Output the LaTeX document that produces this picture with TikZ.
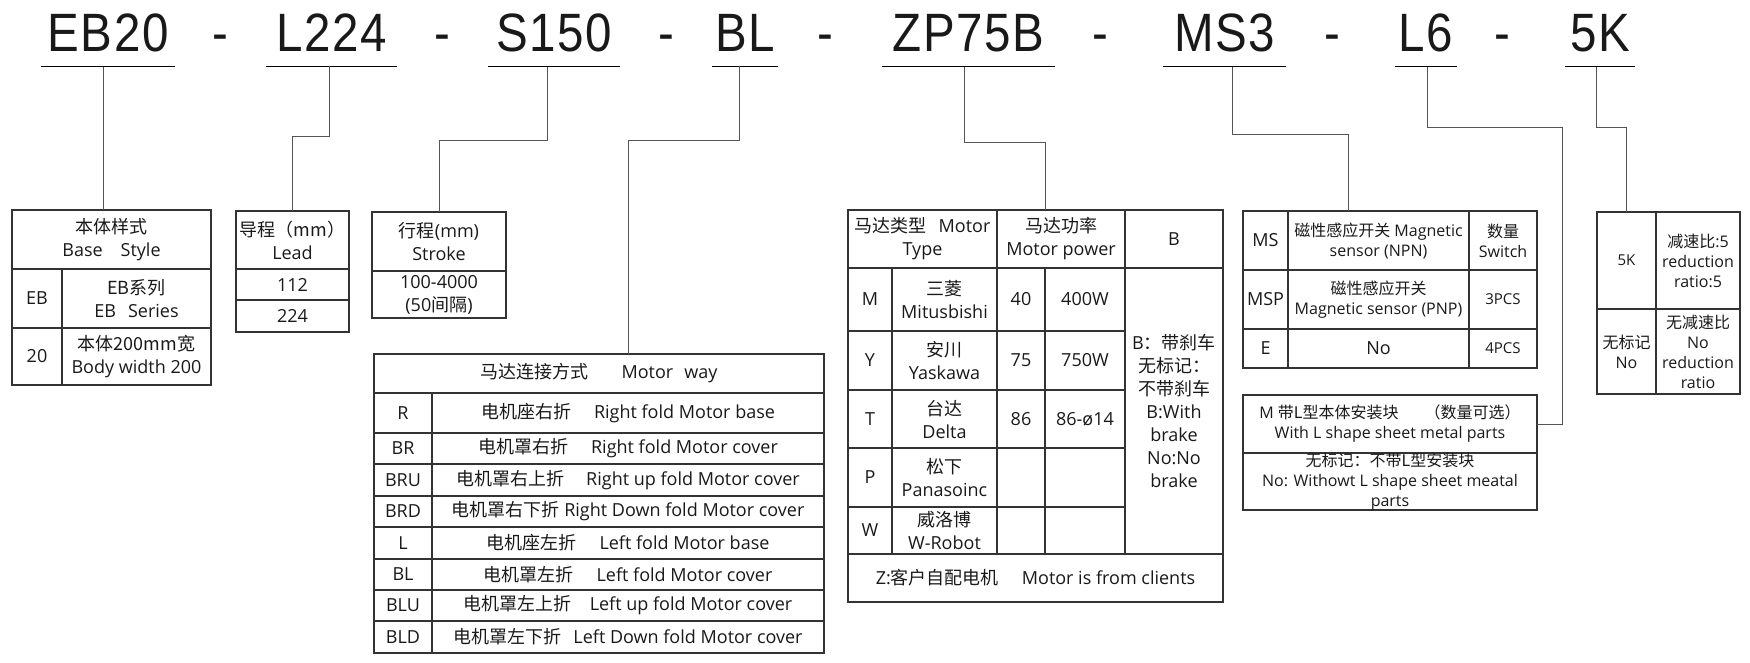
\documentclass[tikz,border=0pt]{standalone}
\usepackage{fontspec}
\setmainfont{Open Sans}
\newfontfamily\zhfont{Noto Sans CJK SC}
\newfontfamily\codefont[FakeStretch=0.88, LetterSpace=3]{Liberation Sans}
\usetikzlibrary{positioning}

\newcommand\zh[1]{{\zhfont #1}}
\newcommand\cellsize{\fontsize{18}{23}\selectfont}
\newcommand\notesize{\fontsize{16}{20}\selectfont}
\definecolor{gridc}{HTML}{333333}
\definecolor{leadc}{HTML}{555555}

\tikzset{
  cell/.style={draw=gridc, line width=1.3pt, inner sep=0pt, outer sep=0pt, align=center, font=\cellsize, text=black!90},
  note/.style={cell, font=\notesize},
  code/.style={font=\codefont\fontsize{54}{54}\selectfont, anchor=base, inner xsep=0pt, inner ysep=14pt, text=black!90},
  uline/.style={draw=black, line width=1pt},
  leader/.style={draw=leadc, line width=1pt}
}

\begin{document}
\begin{tikzpicture}[x=1pt, y=-1pt, node distance=0pt]
  \useasboundingbox (0,0) rectangle (1750,663);

  % order code
  \node[code, minimum width=134] (c-eb) at (108,52) {EB20};
  \node[code] (d1) at (220,52) {-};
  \node[code, minimum width=131] (c-lead) at (331.5,52) {L224};
  \node[code] (d2) at (442,52) {-};
  \node[code, minimum width=132] (c-st) at (554,52) {S150};
  \node[code] (d3) at (666,52) {-};
  \node[code, minimum width=66] (c-bl) at (745,52) {BL};
  \node[code] (d4) at (825,52) {-};
  \node[code, minimum width=173] (c-zp) at (968.5,52) {ZP75B};
  \node[code] (d5) at (1100,52) {-};
  \node[code, minimum width=123] (c-ms) at (1224.5,52) {MS3};
  \node[code] (d6) at (1332,52) {-};
  \node[code, minimum width=62] (c-l6) at (1426,52) {L6};
  \node[code] (d7) at (1502,52) {-};
  \node[code, minimum width=70] (c-5k) at (1600,52) {5K};

  \draw[uline] (c-eb.south west) -- (c-eb.south east);
  \draw[uline] (c-lead.south west) -- (c-lead.south east);
  \draw[uline] (c-st.south west) -- (c-st.south east);
  \draw[uline] (c-bl.south west) -- (c-bl.south east);
  \draw[uline] (c-zp.south west) -- (c-zp.south east);
  \draw[uline] (c-ms.south west) -- (c-ms.south east);
  \draw[uline] (c-l6.south west) -- (c-l6.south east);
  \draw[uline] (c-5k.south west) -- (c-5k.south east);

  % base style
  \node[cell, minimum width=199, minimum height=59] (bs) at (111.5,239.5) {\zh{本体样式}\\Base\quad Style};
  \node[cell, minimum width=50, minimum height=59] (bs-eb) at (37,298.5) {EB};
  \node[cell, minimum width=149, minimum height=59] (bs-ebd) [right=of bs-eb] {\zh{EB系列}\\EB\hspace{12pt}Series};
  \node[cell, minimum width=50, minimum height=57] (bs-20) at (37,356.5) {20};
  \node[cell, minimum width=149, minimum height=57] (bs-20d) [right=of bs-20] {\zh{本体200mm宽}\\Body width 200};

  % lead
  \node[cell, minimum width=113, minimum height=58] (ld) at (292.5,240) {\zh{导程（mm）}\\Lead};
  \node[cell, minimum width=113, minimum height=31] (ld-112) at (292.5,284.5) {112};
  \node[cell, minimum width=113, minimum height=32] (ld-224) at (292.5,316) {224};

  % stroke
  \node[cell, minimum width=134, minimum height=59] (st) at (439,241.5) {\zh{行程}(mm)\\Stroke};
  \node[cell, minimum width=134, minimum height=47] (st-v) at (439,294.5) {100-4000\\(50\zh{间隔})};

  % motor way
  \node[cell, minimum width=450, minimum height=39] (mw) at (599,373.5) {\zh{马达连接方式}\hspace{33pt}Motor\hspace{11pt}way};
  \node[cell, minimum width=58, minimum height=40] (mw-r) at (403,413) {R};
  \node[cell, minimum width=392, minimum height=40] (mw-rd) [right=of mw-r] {\zh{电机座右折}\hspace{23pt}Right fold Motor base};
  \node[cell, minimum width=58, minimum height=31] (mw-br) at (403,448.5) {BR};
  \node[cell, minimum width=392, minimum height=31] (mw-brd) [right=of mw-br] {\zh{电机罩右折}\hspace{23pt}Right fold Motor cover};
  \node[cell, minimum width=58, minimum height=32] (mw-bru) at (403,480) {BRU};
  \node[cell, minimum width=392, minimum height=32] (mw-brud) [right=of mw-bru] {\zh{电机罩右上折}\hspace{22pt}Right up fold Motor cover};
  \node[cell, minimum width=58, minimum height=31] (mw-brdn) at (403,511.5) {BRD};
  \node[cell, minimum width=392, minimum height=31] (mw-brdnd) [right=of mw-brdn] {\zh{电机罩右下折} Right Down fold Motor cover};
  \node[cell, minimum width=58, minimum height=32] (mw-l) at (403,543) {L};
  \node[cell, minimum width=392, minimum height=32] (mw-ld) [right=of mw-l] {\zh{电机座左折}\hspace{23pt}Left fold Motor base};
  \node[cell, minimum width=58, minimum height=31] (mw-bl) at (403,574.5) {BL};
  \node[cell, minimum width=392, minimum height=31] (mw-bld) [right=of mw-bl] {\zh{电机罩左折}\hspace{23pt}Left fold Motor cover};
  \node[cell, minimum width=58, minimum height=31] (mw-blu) at (403,605.5) {BLU};
  \node[cell, minimum width=392, minimum height=31] (mw-blud) [right=of mw-blu] {\zh{电机罩左上折}\hspace{18pt}Left up fold Motor cover};
  \node[cell, minimum width=58, minimum height=32] (mw-bldn) at (403,637) {BLD};
  \node[cell, minimum width=392, minimum height=32] (mw-bldnd) [right=of mw-bldn] {\zh{电机罩左下折}\hspace{12pt}Left Down fold Motor cover};

  % motor type
  \node[cell, minimum width=149, minimum height=58] (mt-type) at (922.5,239) {\zh{马达类型}\hspace{12pt}Motor\\Type};
  \node[cell, minimum width=128, minimum height=58] (mt-pow) at (1061,239) {\zh{马达功率}\\Motor power};
  \node[cell, minimum width=98, minimum height=58] (mt-b) at (1174,239) {B};
  \node[cell, minimum width=44, minimum height=63] (mt-m) at (870,299.5) {M};
  \node[cell, minimum width=105, minimum height=63] (mt-mn) [right=of mt-m] {\zh{三菱}\\Mitusbishi};
  \node[cell, minimum width=48, minimum height=63] (mt-40) [right=of mt-mn] {40};
  \node[cell, minimum width=80, minimum height=63] (mt-400) [right=of mt-40] {400W};
  \node[cell, minimum width=44, minimum height=59] (mt-y) at (870,360.5) {Y};
  \node[cell, minimum width=105, minimum height=59] (mt-yn) [right=of mt-y] {\zh{安川}\\Yaskawa};
  \node[cell, minimum width=48, minimum height=59] (mt-75) [right=of mt-yn] {75};
  \node[cell, minimum width=80, minimum height=59] (mt-750) [right=of mt-75] {750W};
  \node[cell, minimum width=44, minimum height=58] (mt-t) at (870,419) {T};
  \node[cell, minimum width=105, minimum height=58] (mt-tn) [right=of mt-t] {\zh{台达}\\Delta};
  \node[cell, minimum width=48, minimum height=58] (mt-86) [right=of mt-tn] {86};
  \node[cell, minimum width=80, minimum height=58] (mt-86d) [right=of mt-86] {86-ø14};
  \node[cell, minimum width=44, minimum height=59] (mt-p) at (870,477.5) {P};
  \node[cell, minimum width=105, minimum height=59] (mt-pn) [right=of mt-p] {\zh{松下}\\Panasoinc};
  \node[cell, minimum width=48, minimum height=59] (mt-pa) [right=of mt-pn] {};
  \node[cell, minimum width=80, minimum height=59] (mt-pb) [right=of mt-pa] {};
  \node[cell, minimum width=44, minimum height=47] (mt-w) at (870,530.5) {W};
  \node[cell, minimum width=105, minimum height=47] (mt-wn) [right=of mt-w] {\zh{威洛博}\\W-Robot};
  \node[cell, minimum width=48, minimum height=47] (mt-wa) [right=of mt-wn] {};
  \node[cell, minimum width=80, minimum height=47] (mt-wb) [right=of mt-wa] {};
  \node[cell, minimum width=98, minimum height=286] (mt-bd) at (1174,411) {B\zh{：带刹车}\\\zh{无标记：}\\\zh{不带刹车}\\B:With\\brake\\No:No\\brake};
  \node[cell, minimum width=375, minimum height=48] (mt-z) at (1035.5,578) {Z:\zh{客户自配电机}\hspace{23pt}Motor is from clients};

  % magnetic sensor
  \node[cell, minimum width=45, minimum height=59] (ms-ms) at (1265.5,240.5) {MS};
  \node[note, minimum width=181, minimum height=59] (ms-npn) [right=of ms-ms] {\zh{磁性感应开关} Magnetic\\sensor (NPN)};
  \node[note, minimum width=68, minimum height=59] (ms-sw) [right=of ms-npn] {\zh{数量}\\Switch};
  \node[cell, minimum width=45, minimum height=59] (ms-msp) at (1265.5,299.5) {MSP};
  \node[note, minimum width=181, minimum height=59] (ms-pnp) [right=of ms-msp] {\zh{磁性感应开关}\\Magnetic sensor (PNP)};
  \node[note, minimum width=68, minimum height=59, font=\fontsize{15}{19}\selectfont] (ms-3) [right=of ms-pnp] {3PCS};
  \node[cell, minimum width=45, minimum height=39] (ms-e) at (1265.5,348.5) {E};
  \node[cell, minimum width=181, minimum height=39] (ms-no) [right=of ms-e] {No};
  \node[note, minimum width=68, minimum height=39, font=\fontsize{15}{19}\selectfont] (ms-4) [right=of ms-no] {4PCS};

  % L shape parts
  \node[note, minimum width=294, minimum height=58] (ls-m) at (1390,424) {M \zh{带L型本体安装块}\hspace{26pt}\zh{（数量可选）}\\With L shape sheet metal parts};
  \node[note, minimum width=294, minimum height=57] (ls-no) at (1390,481.5) {};
  \node[align=center, font=\notesize, inner sep=0pt, text=black!90] (ls-no-t) at (ls-no) {\zh{无标记：不带L型安装块}\\No: Withowt L shape sheet meatal\\parts};

  % reduction ratio
  \node[note, minimum width=59, minimum height=97, font=\fontsize{15}{19}\selectfont] (k5) at (1626.5,260.5) {5K};
  \node[note, minimum width=84, minimum height=97] (k5-d) [right=of k5] {\zh{减速比}:5\\reduction\\ratio:5};
  \node[note, minimum width=59, minimum height=85] (k0) at (1626.5,351.5) {\zh{无标记}\\No};
  \node[note, minimum width=84, minimum height=85] (k0-d) [right=of k0] {\zh{无减速比}\\No\\reduction\\ratio};

  % leaders
  \draw[leader] ([xshift=-5pt]c-eb.south) -- ([xshift=-5pt]c-eb.south |- bs.north);
  \draw[leader] ([xshift=-2.5pt]c-lead.south) -- ++(0,70) -| (ld.north);
  \draw[leader] ([xshift=-7pt]c-st.south) -- ++(0,74) -| (st.north);
  \draw[leader] ([xshift=-6pt]c-bl.south) -- ++(0,74) -| (mw-rd |- mw.north);
  \draw[leader] ([xshift=-4.5pt]c-zp.south) -- ++(0,76) -| (mt-400.west |- mt-pow.north);
  \draw[leader] ([xshift=7.5pt]c-ms.south) -- ++(0,68) -| ([xshift=-30pt]ms-npn.north);
  \draw[leader] ([xshift=1pt]c-l6.south) -- ++(0,61) -| ([xshift=25pt]ls-m.east) -- (ls-m.east);
  \draw[leader] ([xshift=-4pt]c-5k.south) -- ++(0,61) -| (k5.north);
\end{tikzpicture}
\end{document}
